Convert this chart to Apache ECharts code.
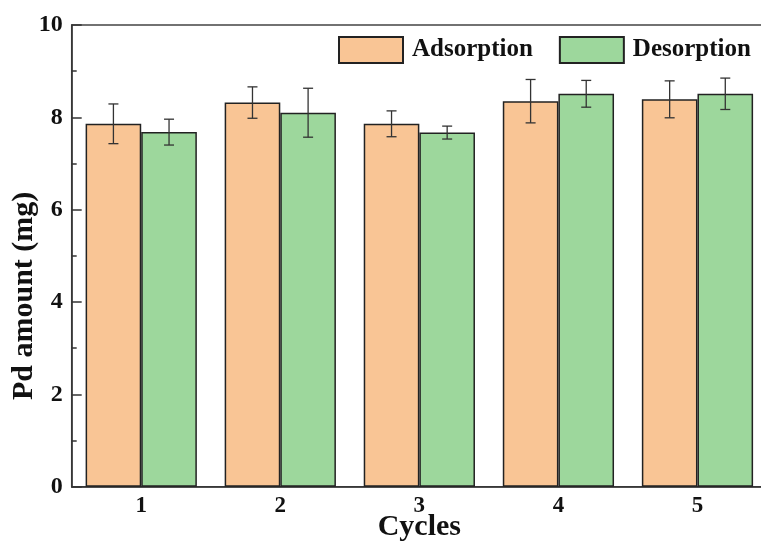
<!DOCTYPE html>
<html>
<head>
<meta charset="utf-8">
<script src="https://cdn.jsdelivr.net/npm/echarts@6/dist/echarts.min.js"></script>
<style>html,body{margin:0;padding:0;background:#fff}#c{width:761px;height:544px}</style>
</head>
<body>
<div id="c"></div>
<script>
const categories = ['1', '2', '3', '4', '5'];
const adsorption = [7.86, 8.32, 7.86, 8.35, 8.39];
const adsorptionErr = [0.43, 0.34, 0.28, 0.47, 0.40];
const desorption = [7.68, 8.10, 7.67, 8.51, 8.51];
const desorptionErr = [0.28, 0.53, 0.14, 0.29, 0.34];
const yTicks = {min: 0, max: 10, interval: 2};

const FONT = '"Liberation Serif", "Times New Roman", serif';
const BAR_RATIO = 0.4;

function errSeries(vals, errs, side) {
  return {
    type: 'custom',
    z: 10,
    silent: true,
    data: vals.map((v, i) => [i, v, errs[i]]),
    renderItem: function (params, api) {
      const i = api.value(0), v = api.value(1), e = api.value(2);
      const band = api.size([1, 0])[0];
      const dx = side * band * BAR_RATIO / 2;
      const top = api.coord([i, v + e]);
      const bot = api.coord([i, v - e]);
      const x = top[0] + dx;
      const cap = 5;
      const style = {stroke: '#333', lineWidth: 1.3, fill: null};
      return {
        type: 'group',
        children: [
          {type: 'line', shape: {x1: x, y1: top[1], x2: x, y2: bot[1]}, style: style},
          {type: 'line', shape: {x1: x - cap, y1: top[1], x2: x + cap, y2: top[1]}, style: style},
          {type: 'line', shape: {x1: x - cap, y1: bot[1], x2: x + cap, y2: bot[1]}, style: style}
        ]
      };
    }
  };
}

const chart = echarts.init(document.getElementById('c'));
chart.setOption({
  animation: false,
  backgroundColor: '#fff',
  grid: {left: 71.7, right: -6, top: 25, bottom: 57.3, containLabel: false, outerBoundsMode: 'none',
         show: true, borderColor: '#444', borderWidth: 1.5},
  legend: {
    left: 333, top: 31,
    itemWidth: 64, itemHeight: 26, itemGap: 26,
    icon: 'rect',
    data: ['Adsorption', 'Desorption'],
    textStyle: {fontFamily: FONT, fontWeight: 'bold', fontSize: 25, color: '#111', padding: [0, 0, 0, 4]}
  },
  xAxis: {
    type: 'category',
    data: categories,
    name: 'Cycles',
    nameLocation: 'middle',
    nameMoveOverlap: false,
    nameGap: 26,
    nameTextStyle: {fontFamily: FONT, fontWeight: 'bold', fontSize: 30, color: '#111'},
    axisLine: {lineStyle: {color: '#333', width: 1.5}},
    axisTick: {inside: true, length: 5, lineStyle: {color: '#333', width: 1.5}},
    axisLabel: {fontFamily: FONT, fontWeight: 'bold', fontSize: 23, color: '#111', margin: 8}
  },
  yAxis: {
    type: 'value',
    min: yTicks.min, max: yTicks.max, interval: yTicks.interval,
    name: 'Pd amount (mg)',
    nameLocation: 'middle',
    nameMoveOverlap: false,
    nameGap: 32,
    nameTextStyle: {fontFamily: FONT, fontWeight: 'bold', fontSize: 30, color: '#111', padding: [0, 80, 0, 0]},
    axisLine: {show: true, lineStyle: {color: '#333', width: 1.5}},
    axisTick: {show: true, inside: true, length: 10, lineStyle: {color: '#333', width: 1.5}},
    minorTick: {show: true, splitNumber: 2, length: 5, lineStyle: {color: '#333', width: 1.5}},
    splitLine: {show: false},
    axisLabel: {fontFamily: FONT, fontWeight: 'bold', fontSize: 24, color: '#111', margin: 9}
  },
  series: [
    {
      name: 'Adsorption', type: 'bar', data: adsorption,
      barGap: '0%', barCategoryGap: '20%',
      itemStyle: {color: '#F9C595', borderColor: '#222', borderWidth: 1.5}
    },
    {
      name: 'Desorption', type: 'bar', data: desorption,
      barGap: '0%', barCategoryGap: '20%',
      itemStyle: {color: '#9DD79C', borderColor: '#222', borderWidth: 1.5}
    },
    errSeries(adsorption, adsorptionErr, -1),
    errSeries(desorption, desorptionErr, 1)
  ]
});
</script>
</body>
</html>
